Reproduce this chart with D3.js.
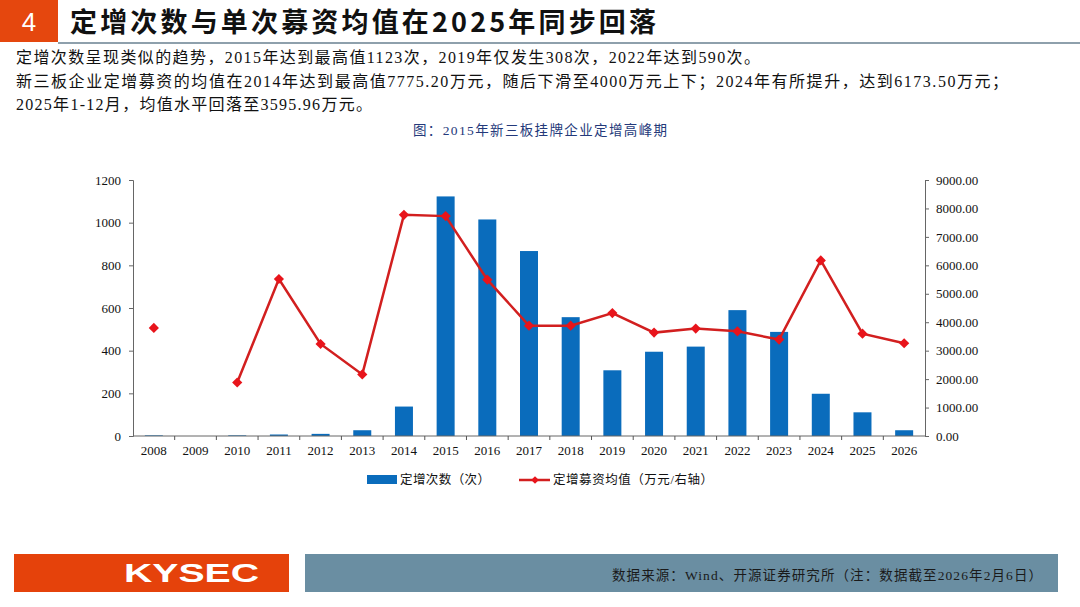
<!DOCTYPE html>
<html><head><meta charset="utf-8">
<script src="https://cdn.jsdelivr.net/npm/d3@7"></script>
<style>
html,body{margin:0;padding:0;background:#fff;}
svg{display:block;}
</style></head>
<body>
<svg id="c" width="1080" height="607"></svg>
<script>
const years = ["2008","2009","2010","2011","2012","2013","2014","2015","2016","2017","2018","2019","2020","2021","2022","2023","2024","2025","2026"];
const counts = [3,0,3,7,10,27,138,1123,1015,867,557,308,395,419,590,488,198,111,27];
const avgRaise = [3800,null,1880,5520,3235,2165,7775.20,7730,5495,3880,3880,4320,3635,3775,3680,3390,6173.50,3595.96,3260];
const leftTicks = [0,200,400,600,800,1000,1200];
const rightTicks = [0,1000,2000,3000,4000,5000,6000,7000,8000,9000];
const titleText = "定增次数与单次募资均值在2025年同步回落";
const bodyLines = [
 "定增次数呈现类似的趋势，2015年达到最高值1123次，2019年仅发生308次，2022年达到590次。",
 "新三板企业定增募资的均值在2014年达到最高值7775.20万元，随后下滑至4000万元上下；2024年有所提升，达到6173.50万元；",
 "2025年1-12月，均值水平回落至3595.96万元。"
];
const bodyWidths = [744, 992, 356];
const captionText = "图：2015年新三板挂牌企业定增高峰期";
const legendLabels = ["定增次数（次）","定增募资均值（万元/右轴）"];
const sourceText = "数据来源：Wind、开源证券研究所（注：数据截至2026年2月6日）";

const svg = d3.select("#c");
const serif = "'Liberation Serif','Noto Sans CJK SC',serif";
const cjk = "'Liberation Serif','Noto Sans CJK SC',sans-serif";

// Header
svg.append("rect").attr("x",0).attr("y",0).attr("width",58).attr("height",42).attr("fill","#E5470E");
svg.append("text").attr("x",29).attr("y",31).attr("text-anchor","middle").attr("fill","#fff")
  .attr("font-family","'Liberation Sans',sans-serif").attr("font-size",26).text("4");
svg.append("text").attr("x",70).attr("y",32).attr("fill","#111").attr("font-family","'Noto Sans CJK SC',sans-serif")
  .attr("font-weight","bold").attr("font-size",27).attr("textLength",586).attr("lengthAdjust","spacing").text(titleText);
svg.append("rect").attr("x",58).attr("y",42).attr("width",1022).attr("height",2).attr("fill","#8EA0AC");

// Body text
bodyLines.forEach((t,i)=>{
  svg.append("text").attr("x",16).attr("y",63+i*23.5).attr("fill","#111").attr("font-family",cjk)
    .attr("font-size",16).attr("textLength",bodyWidths[i]).attr("lengthAdjust","spacing").text(t);
});
svg.append("text").attr("x",413).attr("y",135).attr("fill","#24397A")
  .attr("font-family",cjk).attr("font-size",13.5).attr("textLength",254).attr("lengthAdjust","spacing").text(captionText);

// Chart
const x0 = 133, x1 = 925, yTop = 180, yBot = 436;
const xb = d3.scaleBand().domain(years).range([x0,x1]);
const yL = d3.scaleLinear().domain([0,1200]).range([yBot,yTop]);
const yR = d3.scaleLinear().domain([0,9000]).range([yBot,yTop]);

const g = svg.append("g");
g.selectAll("rect.bar").data(years).join("rect").attr("class","bar")
  .attr("x",d=>xb(d)+xb.bandwidth()/2-9).attr("width",18)
  .attr("y",(d,i)=>yL(counts[i])).attr("height",(d,i)=>yBot-yL(counts[i]))
  .attr("fill","#0A6CBC");

// Axes
const axL = d3.axisLeft(yL).tickValues(leftTicks).tickSize(4).tickFormat(d3.format("d"));
const gl = svg.append("g").attr("transform",`translate(${x0},0)`).call(axL);
const axR = d3.axisRight(yR).tickValues(rightTicks).tickSize(4).tickFormat(d3.format(".2f"));
const gr = svg.append("g").attr("transform",`translate(${x1},0)`).call(axR);
const axB = d3.axisBottom(xb).tickSize(0).tickPadding(10);
const gb = svg.append("g").attr("transform",`translate(0,${yBot})`).call(axB);
gb.selectAll("line.sep").data(years.slice(1)).join("line").attr("class","sep")
  .attr("x1",d=>xb(d)).attr("x2",d=>xb(d)).attr("y1",0).attr("y2",4).attr("stroke","#555");
[gl,gr,gb].forEach(a=>{
  a.selectAll("path.domain").attr("stroke","#666");
  a.selectAll(".tick line").attr("stroke","#666");
  a.selectAll("text").attr("font-family",serif).attr("font-size",13).attr("fill","#111");
});
gl.selectAll(".tick text").attr("x",-12);
gr.selectAll(".tick text").attr("x",11);
gb.selectAll("path.domain").attr("d",`M${x0},0H${x1}`);

// Line
const pts = years.map((y,i)=>({y, v: avgRaise[i]}));
const line = d3.line().defined(d=>d.v!==null).x(d=>xb(d.y)+xb.bandwidth()/2).y(d=>yR(d.v));
svg.append("path").datum(pts).attr("d",line).attr("fill","none").attr("stroke","#D21F1F").attr("stroke-width",2.5);
const marker = d3.symbol().type(d3.symbolSquare).size(52);
svg.selectAll("path.mk").data(pts.filter(d=>d.v!==null)).join("path").attr("class","mk")
  .attr("d",marker).attr("transform",d=>`translate(${xb(d.y)+xb.bandwidth()/2},${yR(d.v)}) rotate(45)`)
  .attr("fill","#E8141B");

// Legend
svg.append("rect").attr("x",367).attr("y",475).attr("width",30).attr("height",9).attr("fill","#0A6CBC");
svg.append("text").attr("x",400).attr("y",484).attr("font-family",cjk).attr("font-size",12.5).attr("fill","#111")
  .attr("textLength",90).attr("lengthAdjust","spacing").text(legendLabels[0]);
svg.append("line").attr("x1",519).attr("x2",550).attr("y1",480).attr("y2",480).attr("stroke","#D21F1F").attr("stroke-width",2.5);
svg.append("path").attr("d",d3.symbol().type(d3.symbolSquare).size(30)).attr("transform","translate(535,480) rotate(45)").attr("fill","#E8141B");
svg.append("text").attr("x",553).attr("y",484).attr("font-family",cjk).attr("font-size",12.5).attr("fill","#111")
  .attr("textLength",160).attr("lengthAdjust","spacing").text(legendLabels[1]);

// Footer
svg.append("rect").attr("x",14).attr("y",554).attr("width",275).attr("height",38).attr("fill","#E5420B");
svg.append("text").attr("x",124).attr("y",582).attr("fill","#fff")
  .attr("font-family","'Liberation Sans',sans-serif").attr("font-weight","bold").attr("font-size",25)
  .attr("textLength",135).attr("lengthAdjust","spacingAndGlyphs").text("KYSEC");
svg.append("rect").attr("x",305).attr("y",554).attr("width",753).attr("height",38).attr("fill","#6A8EA2");
svg.append("text").attr("x",612).attr("y",580).attr("fill","#1A1A1A")
  .attr("font-family",cjk).attr("font-size",13.5).attr("textLength",430).attr("lengthAdjust","spacing").text(sourceText);
</script>
</body></html>
